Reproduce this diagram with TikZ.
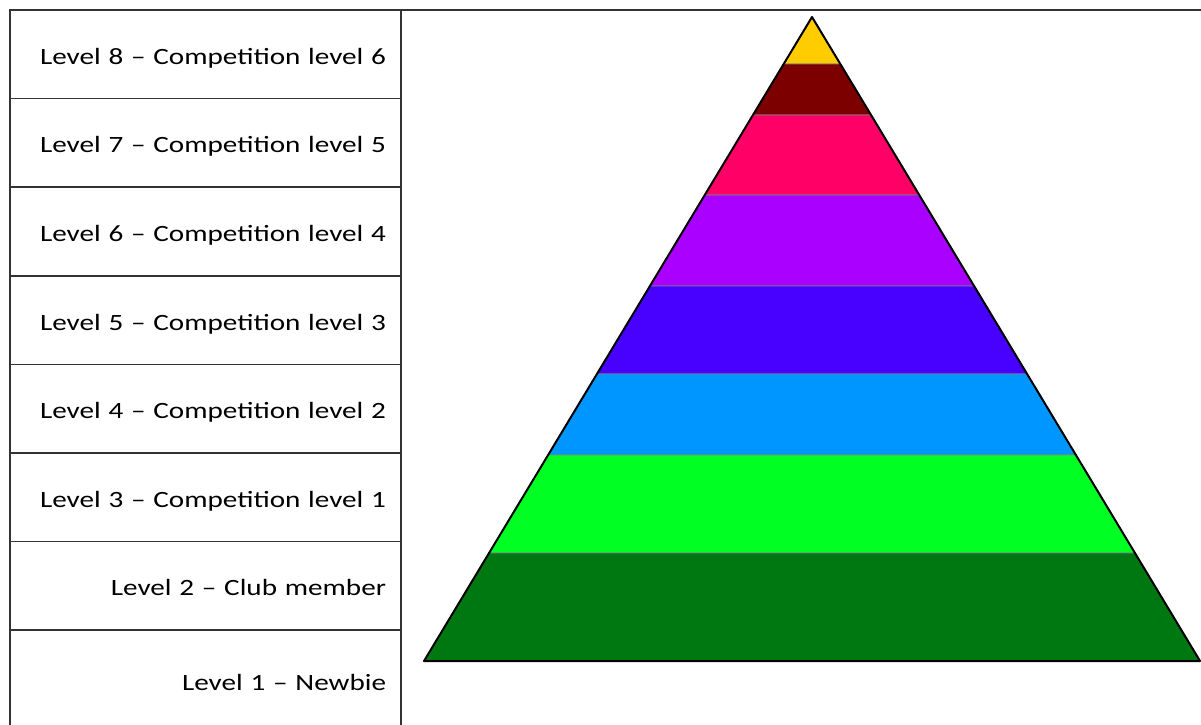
\documentclass[tikz,border=0pt]{standalone}
\usepackage{fontspec}
\setmainfont[FakeStretch=1.25]{Carlito}
\usepackage{xcolor}
\usetikzlibrary{positioning,calc}
\definecolor{lvlyellow}{RGB}{255,204,0}
\definecolor{lvldarkred}{RGB}{125,0,0}
\definecolor{lvlpink}{RGB}{255,0,102}
\definecolor{lvlpurple}{RGB}{170,0,255}
\definecolor{lvlblue}{RGB}{72,0,255}
\definecolor{lvllightblue}{RGB}{0,150,255}
\definecolor{lvlgreen}{RGB}{0,255,34}
\definecolor{lvldarkgreen}{RGB}{0,120,18}
\tikzset{
  levelcell/.style={
    rectangle,
    draw=black!80,
    line width=1.1pt,
    outer sep=0pt,
    align=right,
    text width=270.75pt,
    minimum height=66.45pt,
    inner xsep=11.25pt,
    inner ysep=0pt,
    text height=15pt,
    text depth=0pt,
    text=black,
    font=\fontsize{17.5}{20}\selectfont
  },
  tableline/.style={
    draw=black!80,
    line width=1.1pt
  },
  band/.style={
    draw=black!50,
    line width=0.6pt
  },
  pyroutline/.style={
    draw=black,
    line width=1.5pt,
    line join=round
  }
}

\begin{document}
\begin{tikzpicture}[x=0.75pt,y=-0.75pt,node distance=0pt]
\useasboundingbox (0,0) rectangle (1201,724);
\clip (0,0) rectangle (1201,724);
% level table
\node[levelcell, anchor=north west] (lvl8) at (10,10) {Level 8 -- Competition level 6};
\node[levelcell, below=of lvl8] (lvl7) {Level 7 -- Competition level 5};
\node[levelcell, below=of lvl7] (lvl6) {Level 6 -- Competition level 4};
\node[levelcell, below=of lvl6] (lvl5) {Level 5 -- Competition level 3};
\node[levelcell, below=of lvl5] (lvl4) {Level 4 -- Competition level 2};
\node[levelcell, below=of lvl4] (lvl3) {Level 3 -- Competition level 1};
\node[levelcell, below=of lvl3] (lvl2) {Level 2 -- Club member};
\node[levelcell, below=of lvl2, minimum height=75pt] (lvl1) {Level 1 -- Newbie};
\coordinate (topend) at (1201,10);
\draw[tableline] (lvl8.north west) -- (topend);

% pyramid
\coordinate (apex) at (812,17);
\coordinate (baseL) at (424,661);
\coordinate (baseR) at (1200,661);
\foreach \ta/\tb/\col in {0/0.0730/lvlyellow, 0.0730/0.1522/lvldarkred,
    0.1522/0.2764/lvlpink, 0.2764/0.4177/lvlpurple, 0.4177/0.5543/lvlblue,
    0.5543/0.6801/lvllightblue, 0.6801/0.8323/lvlgreen, 0.8323/1/lvldarkgreen}
  \filldraw[band, fill=\col] ($(apex)!\ta!(baseL)$) -- ($(apex)!\tb!(baseL)$)
    -- ($(apex)!\tb!(baseR)$) -- ($(apex)!\ta!(baseR)$) -- cycle;
\draw[pyroutline] (apex) -- (baseL) -- (baseR) -- cycle;
\end{tikzpicture}
\end{document}
